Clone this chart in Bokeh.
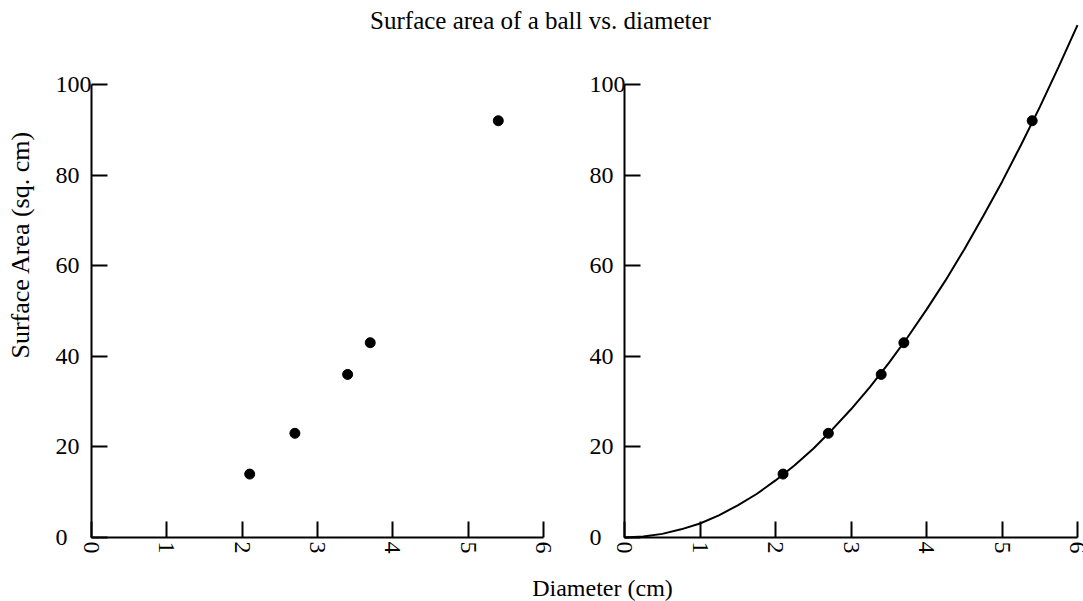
import math
from bokeh.plotting import figure
from bokeh.models import Range1d, LinearAxis, FixedTicker, Label, LabelSet, ColumnDataSource
from bokeh.embed import file_html
from bokeh.resources import INLINE

# ---- data ----
diameter = [2.1, 2.7, 3.4, 3.7, 5.4]
area = [14, 23, 36, 43, 92]
curve_x = [0, 0.25, 0.5, 0.75, 1, 1.25, 1.5, 1.75, 2, 2.25, 2.5, 2.75, 3,
           3.25, 3.5, 3.75, 4, 4.25, 4.5, 4.75, 5, 5.25, 5.5, 5.75, 6]
curve_y = [0, 0.2, 0.8, 1.8, 3.1, 4.9, 7.1, 9.6, 12.6, 15.9, 19.6, 23.8, 28.3,
           33.2, 38.5, 44.2, 50.3, 56.7, 63.6, 70.9, 78.5, 86.6, 95.0, 103.9, 113.1]
x_ticks = [0, 1, 2, 3, 4, 5, 6]
y_ticks = [0, 20, 40, 60, 80, 100]
title_text = "Surface area of a ball vs. diameter"
x_label = "Diameter (cm)"
y_label = "Surface Area (sq. cm)"

# ---- layout (pixels); the plot frame covers the whole canvas ----
W, H = 1083, 601
LEFT0, LEFT6 = 91, 543      # px of x=0 and x=6, left panel
RIGHT0, RIGHT6 = 624, 1077  # px of x=0 and x=6, right panel
Y0, Y100 = 537, 84          # px of y=0 and y=100

ppx_l = (LEFT6 - LEFT0) / 6
ppx_r = (RIGHT6 - RIGHT0) / 6
ppy = (Y0 - Y100) / 100

xl_start = -LEFT0 / ppx_l
xl_end = xl_start + W / ppx_l
xr_start = -RIGHT0 / ppx_r
xr_end = xr_start + W / ppx_r
y_start = -(H - Y0) / ppy
y_end = y_start + H / ppy


def dx(px):
    return (px - LEFT0) / ppx_l


def dxr(px):
    return (px - RIGHT0) / ppx_r


def dy(py):
    return (Y0 - py) / ppy


FONT = "Liberation Serif"
FS = "24px"

p = figure(width=W, height=H, x_range=Range1d(xl_start, xl_end), y_range=Range1d(y_start, y_end),
           output_backend="svg", toolbar_location=None,
           x_axis_type=None, y_axis_type=None,
           min_border_left=0, min_border_right=0, min_border_top=0, min_border_bottom=0)
p.extra_x_ranges = {"right": Range1d(xr_start, xr_end)}
p.outline_line_color = None
p.background_fill_color = "white"
p.border_fill_color = "white"


def make_axis(ticks, bounds, x_range_name="default"):
    ax = LinearAxis(ticker=FixedTicker(ticks=ticks), bounds=bounds,
                    x_range_name=x_range_name, fixed_location=0)
    ax.axis_line_color = "black"
    ax.axis_line_width = 2
    ax.major_tick_line_color = "black"
    ax.major_tick_line_width = 2
    ax.major_tick_in = 16
    ax.major_tick_out = 0
    ax.minor_tick_line_color = None
    ax.major_label_text_color = None
    return ax


p.add_layout(make_axis(y_ticks, (0, 100)), "left")
p.add_layout(make_axis(x_ticks, (0, 6)), "below")
p.add_layout(make_axis(y_ticks, (0, 100), "right"), "left")
p.add_layout(make_axis(x_ticks, (0, 6), "right"), "below")

# tick labels
ytl = ColumnDataSource(dict(y=y_ticks, text=[str(t) for t in y_ticks]))
xtl = ColumnDataSource(dict(x=x_ticks, text=[str(t) for t in x_ticks]))
common = dict(text_font=FONT, text_color="black")
p.add_layout(LabelSet(x=dx(55), y="y", text="text", source=ytl, text_font_size=FS,
                      text_align="left", text_baseline="middle", **common))
p.add_layout(LabelSet(x=dxr(589), y="y", text="text", source=ytl, x_range_name="right",
                      text_font_size=FS, text_align="left", text_baseline="middle", **common))
p.add_layout(LabelSet(x="x", y=dy(541), text="text", source=xtl, angle=-math.pi / 2,
                      text_font_size=FS, text_align="left", text_baseline="middle", **common))
p.add_layout(LabelSet(x="x", y=dy(541), text="text", source=xtl, x_range_name="right",
                      angle=-math.pi / 2, text_font_size=FS, text_align="left",
                      text_baseline="middle", **common))

# left panel: points only
p.scatter(diameter, area, size=10, color="black")
# right panel: curve + points
p.line(curve_x, curve_y, line_color="black", line_width=2, x_range_name="right")
p.scatter(diameter, area, size=10, color="black", x_range_name="right")

# titles
p.add_layout(Label(x=dx(540), y=dy(20), text=title_text, text_align="center",
                   text_baseline="alphabetic", text_font_size="25px", **common))
p.add_layout(Label(x=dx(602), y=dy(587), text=x_label, text_align="center",
                   text_baseline="alphabetic", text_font_size="24px", **common))
p.add_layout(Label(x=dx(20), y=dy(244), text=y_label, text_align="center",
                   text_baseline="alphabetic", angle=math.pi / 2,
                   text_font_size="26px", **common))

open("out.html", "w").write(file_html(p, INLINE))
